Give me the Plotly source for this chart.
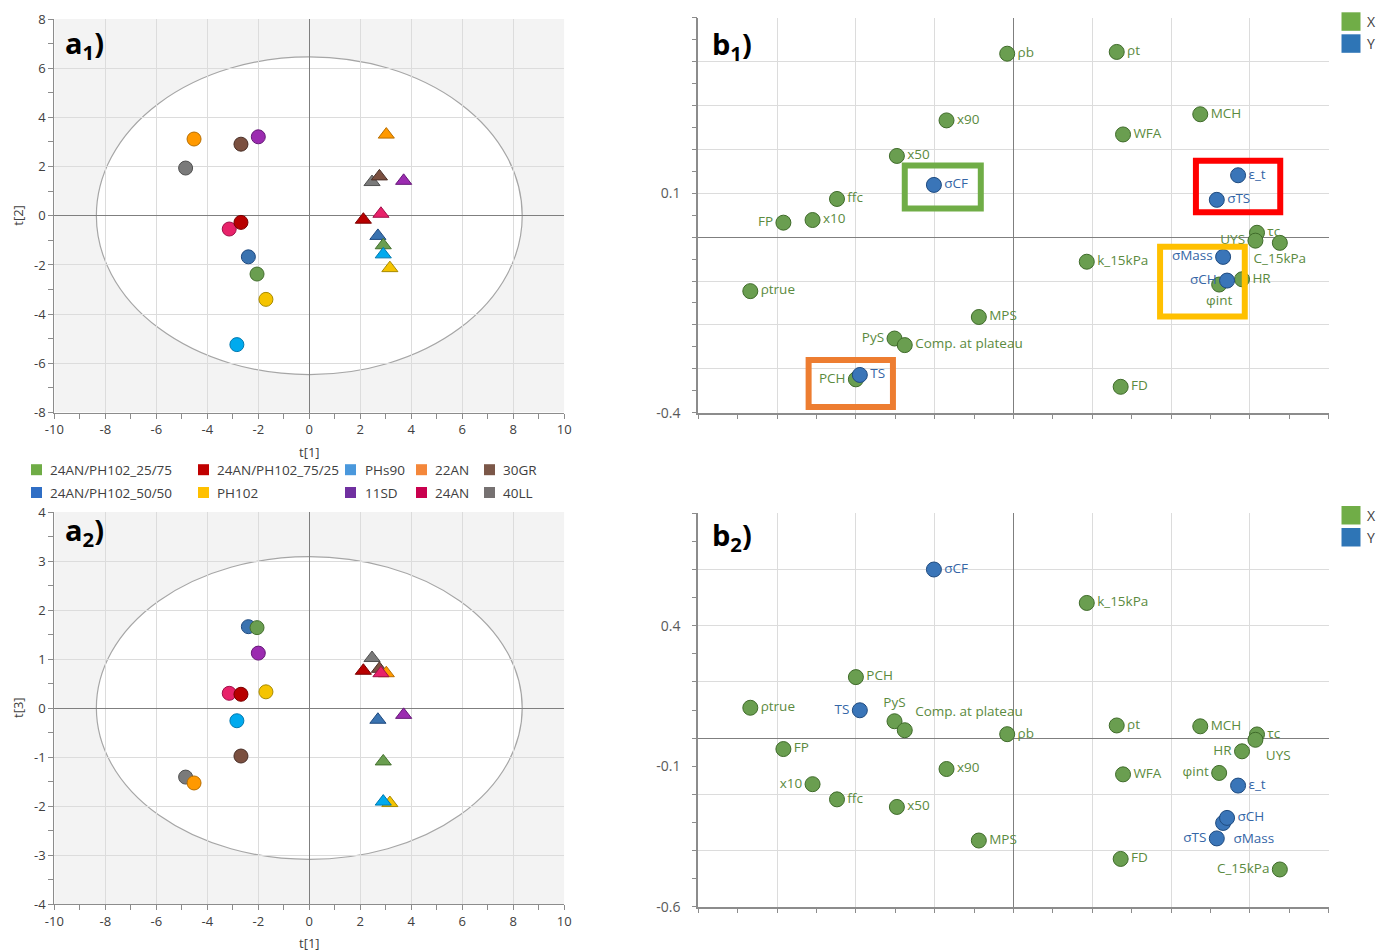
import plotly.graph_objects as go

W, H = 1376, 951

# ---------------- DATA: score plots (a1, a2) ----------------
groups = ["24AN/PH102_25/75", "24AN/PH102_50/50", "24AN/PH102_75/25", "PH102",
          "PHs90", "11SD", "22AN", "24AN", "30GR", "40LL"]
circle_t1 = [-2.05, -2.39, -2.68, -1.70, -2.84, -2.00, -4.52, -3.14, -2.68, -4.85]
circle_t2 = [-2.37, -1.67, -0.27, -3.40, -5.24, 3.21, 3.12, -0.54, 2.91, 1.94]
circle_t3 = [1.64, 1.66, 0.28, 0.33, -0.26, 1.12, -1.53, 0.30, -0.98, -1.41]
triangle_t1 = [2.90, 2.69, 2.12, 3.16, 2.90, 3.70, 3.02, 2.81, 2.75, 2.46]
triangle_t2 = [-1.20, -0.82, -0.16, -2.13, -1.57, 1.42, 3.30, 0.08, 1.60, 1.37]
triangle_t3 = [-1.09, -0.24, 0.76, -1.94, -1.91, -0.14, 0.71, 0.71, 0.80, 1.02]
ellipse_a1 = [8.35, 6.46]
ellipse_a2 = [8.35, 3.09]
t1_ticks = [-10, -8, -6, -4, -2, 0, 2, 4, 6, 8, 10]
t2_ticks = [-8, -6, -4, -2, 0, 2, 4, 6, 8]
t3_ticks = [-4, -3, -2, -1, 0, 1, 2, 3, 4]

# ---------------- DATA: loading plots (b1, b2) ----------------
x_names = ["ρb", "ρt", "x90", "MCH", "WFA", "x50", "ffc", "x10", "FP", "τc", "UYS",
           "C_15kPa", "k_15kPa", "φint", "HR", "FD", "ρtrue", "MPS", "PyS",
           "Comp. at plateau", "PCH"]
x_wc1 = [-0.008, 0.131, -0.085, 0.237, 0.139, -0.148, -0.224, -0.255, -0.292, 0.309, 0.307,
         0.338, 0.093, 0.261, 0.290, 0.136, -0.334, -0.044, -0.151, -0.138, -0.200]
x_wc2 = [0.418, 0.422, 0.266, 0.280, 0.234, 0.185, 0.087, 0.039, 0.033, 0.010, -0.008,
         -0.013, -0.056, -0.108, -0.096, -0.341, -0.123, -0.182, -0.231, -0.246, -0.324]
x_wc3 = [0.014, 0.045, -0.110, 0.042, -0.129, -0.245, -0.218, -0.164, -0.039, 0.013, -0.006,
         -0.4675, 0.481, -0.124, -0.047, -0.430, 0.108, -0.3645, 0.060, 0.028, 0.217]

y_names = ["σCF", "ε_t", "σTS", "σMass", "σCH", "TS"]
y_wc1 = [-0.101, 0.285, 0.258, 0.266, 0.271, -0.195]
y_wc2 = [0.119, 0.141, 0.085, -0.045, -0.099, -0.314]
y_wc3 = [0.600, -0.169, -0.357, -0.302, -0.284, 0.099]

b_x_grid = [-0.4, -0.3, -0.2, -0.1, 0.0, 0.1, 0.2, 0.3, 0.4]
b1_y_grid = [-0.4, -0.3, -0.2, -0.1, 0.0, 0.1, 0.2, 0.3, 0.4, 0.5]
b1_y_labels = [-0.4, 0.1]
b2_y_grid = [-0.6, -0.4, -0.2, 0.0, 0.2, 0.4, 0.6, 0.8]
b2_y_labels = [-0.6, -0.1, 0.4]

# ---------------- STYLE ----------------
fill = ["#6a9e50", "#3a73b0", "#b80000", "#f5c400", "#00aaee",
        "#9b2bb0", "#ff9900", "#e8226a", "#7b5040", "#7a7a7a"]
edge = ["#44702e", "#1f4a80", "#7a0000", "#a88a00", "#0079b0",
        "#661a78", "#b86e00", "#a0104a", "#4a3028", "#505050"]
swatch = ["#6fac46", "#2f6ec5", "#c00000", "#ffc000", "#4a98dc",
          "#7030a0", "#f4873a", "#c9004e", "#7b5748", "#767171"]
draw_order = [3, 1, 0, 4, 9, 8, 6, 5, 7, 2]
legend_cells = [(0, 0, 0), (2, 1, 0), (4, 2, 0), (6, 3, 0), (8, 4, 0),
                (1, 0, 1), (3, 1, 1), (5, 2, 1), (7, 3, 1), (9, 4, 1)]
leg_sw_x = [36.5, 203.5, 350.5, 421.5, 489.5]
leg_tx_x = [48.0, 215.0, 362.5, 433.5, 501.0]
leg_row_y = [469.7, 492.5]

x_pos_b1 = ["middle right"] * 8 + ["middle left", "middle right", "middle left",
            "bottom center", "middle right", "bottom center", "middle right", "middle right",
            "middle right", "middle right", "middle left", "middle right", "middle left"]
x_pos_b2 = ["middle right"] * 7 + ["middle left", "middle right", "middle right", "bottom right",
            "middle left", "middle right", "middle left", "middle left", "middle right",
            "middle right", "middle right", "top center", "top right", "middle right"]
y_pos_b1 = ["middle right", "middle right", "middle right", "middle left", "middle left", "middle right"]
y_pos_b2 = ["middle right", "middle right", "middle left", "bottom right", "middle right", "middle left"]

GREEN, GREEN_EDGE, GREEN_TXT = "#6a9e50", "#3f6b2a", "#5b8a40"
BLUE, BLUE_EDGE, BLUE_TXT = "#3a75b8", "#1f4b80", "#3566a6"
FONT = "Open Sans, Noto Sans, sans-serif"
AXC = "#8c8c8c"
GRID = "#dcdcdc"
ZERO = "#7f7f7f"


def px(x):
    return x / W


def py(y):
    return 1 - y / H


def fmt(v):
    return "%g" % v


fig = go.Figure()

# score plots
for ax_x, ax_y, tri_y, cir_y in [("x", "y", triangle_t2, circle_t2), ("x2", "y2", triangle_t3, circle_t3)]:
    for i in draw_order:
        fig.add_trace(go.Scatter(
            x=[circle_t1[i], triangle_t1[i]], y=[cir_y[i], tri_y[i]],
            mode="markers", name=groups[i], showlegend=False,
            marker=dict(symbol=["circle", "triangle-up"], size=14, opacity=1,
                        color=fill[i], line=dict(color=edge[i], width=1)),
            xaxis=ax_x, yaxis=ax_y, cliponaxis=False))

# loading plots
for ax_x, ax_y, xv, yv, xp, yp in [("x3", "y3", x_wc2, y_wc2, x_pos_b1, y_pos_b1),
                                     ("x4", "y4", x_wc3, y_wc3, x_pos_b2, y_pos_b2)]:
    fig.add_trace(go.Scatter(
        x=x_wc1, y=xv, text=x_names, mode="markers+text", textposition=xp, name="X",
        showlegend=False, marker=dict(size=15, opacity=1, color=GREEN, line=dict(color=GREEN_EDGE, width=1)),
        textfont=dict(family=FONT, size=13.5, color=GREEN_TXT), xaxis=ax_x, yaxis=ax_y, cliponaxis=False))
    fig.add_trace(go.Scatter(
        x=y_wc1, y=yv, text=y_names, mode="markers+text", textposition=yp, name="Y",
        showlegend=False, marker=dict(size=15, opacity=1, color=BLUE, line=dict(color=BLUE_EDGE, width=1)),
        textfont=dict(family=FONT, size=13.5, color=BLUE_TXT), xaxis=ax_x, yaxis=ax_y, cliponaxis=False))

# empty traces that carry the tick-label overlay axes of b1 / b2
fig.add_trace(go.Scatter(x=[], y=[], xaxis="x3", yaxis="y6", showlegend=False))
fig.add_trace(go.Scatter(x=[], y=[], xaxis="x4", yaxis="y5", showlegend=False))

tickfont_a = dict(family=FONT, size=13, color="#404040")
tickfont_b = dict(family=FONT, size=14, color="#595959")


def base_axis(**kw):
    d = dict(showgrid=True, gridcolor=GRID, gridwidth=1, zeroline=True, zerolinecolor=ZERO,
             zerolinewidth=1.4, showline=True, linecolor=AXC, linewidth=1.2, ticks="outside",
             ticklen=5, tickcolor=AXC, tickwidth=1, mirror=False, fixedrange=True, automargin=False)
    d.update(kw)
    return d


def minor(step):
    return dict(dtick=step, tick0=0, ticks="outside", ticklen=5, tickcolor=AXC, showgrid=False)


def label_axis(over, anchor, rng, vals):
    return dict(overlaying=over, anchor=anchor, side="left", range=rng, tickmode="array",
                tickvals=vals, ticktext=[fmt(v) for v in vals], tickfont=tickfont_b,
                showgrid=False, zeroline=False, showline=False, ticks="outside", ticklen=14,
                tickcolor="rgba(0,0,0,0)", fixedrange=True, automargin=False)


a_xdom = [px(54.3), px(564.3)]
b_xdom = [px(698.3), px(1328.7)]

fig.update_layout(
    width=W, height=H, margin=dict(l=0, r=0, t=0, b=0, pad=0), autosize=False,
    paper_bgcolor="white", plot_bgcolor="white", showlegend=False,
    font=dict(family=FONT, color="#404040"),
    xaxis=base_axis(domain=a_xdom, anchor="y", range=[-10, 10], tickmode="array",
                    tickvals=t1_ticks, ticktext=[fmt(v) for v in t1_ticks],
                    tickfont=tickfont_a, minor=minor(1)),
    yaxis=base_axis(domain=[py(412.5), py(19)], anchor="x", range=[-8, 8], tickmode="array",
                    tickvals=t2_ticks, ticktext=[fmt(v) for v in t2_ticks],
                    tickfont=tickfont_a, minor=minor(1)),
    xaxis2=base_axis(domain=a_xdom, anchor="y2", range=[-10, 10], tickmode="array",
                     tickvals=t1_ticks, ticktext=[fmt(v) for v in t1_ticks],
                     tickfont=tickfont_a, minor=minor(1)),
    yaxis2=base_axis(domain=[py(904), py(512)], anchor="x2", range=[-4, 4], tickmode="array",
                     tickvals=t3_ticks, ticktext=[fmt(v) for v in t3_ticks],
                     tickfont=tickfont_a, minor=minor(0.5)),
    xaxis3=base_axis(domain=b_xdom, anchor="y3", range=[-0.4, 0.4], tickmode="array",
                     tickvals=b_x_grid, showticklabels=False, linewidth=1.5, minor=minor(0.05)),
    yaxis3=base_axis(domain=[py(412.7), py(17.7)], anchor="x3", range=[-0.4, 0.5], tickmode="array",
                     tickvals=b1_y_grid, showticklabels=False, linewidth=1.5, minor=minor(0.05)),
    xaxis4=base_axis(domain=b_xdom, anchor="y4", range=[-0.4, 0.4], tickmode="array",
                     tickvals=b_x_grid, showticklabels=False, linewidth=1.5, minor=minor(0.05)),
    yaxis4=base_axis(domain=[py(906.7), py(513.3)], anchor="x4", range=[-0.6, 0.8], tickmode="array",
                     tickvals=b2_y_grid, showticklabels=False, linewidth=1.5, minor=minor(0.1)),
    yaxis5=label_axis("y4", "x4", [-0.6, 0.8], b2_y_labels),
    yaxis6=label_axis("y3", "x3", [-0.4, 0.5], b1_y_labels),
)

shapes = []
# score plot backgrounds and Hotelling ellipses
for xr, yr, (ex, ey), yrange in [("x", "y", ellipse_a1, 8), ("x2", "y2", ellipse_a2, 4)]:
    shapes.append(dict(type="rect", xref=xr, yref=yr, x0=-10, x1=10, y0=-yrange, y1=yrange,
                       fillcolor="#f3f3f3", line=dict(width=0), layer="below"))
    shapes.append(dict(type="circle", xref=xr, yref=yr, x0=-ex, x1=ex, y0=-ey, y1=ey,
                       fillcolor="white", line=dict(color="#a6a6a6", width=1.2), layer="below"))

# highlight boxes in b1
boxes = [(-0.138, -0.0415, 0.065, 0.163, "#70ad47"),
         (0.2315, 0.3385, 0.057, 0.174, "#ff0000"),
         (0.186, 0.2935, -0.181, -0.022, "#ffc000"),
         (-0.260, -0.153, -0.387, -0.280, "#ed7d31")]
for x0, x1, y0, y1, c in boxes:
    shapes.append(dict(type="rect", xref="x3", yref="y3", x0=x0, x1=x1, y0=y0, y1=y1,
                       line=dict(color=c, width=6), fillcolor="rgba(0,0,0,0)", layer="above"))

annotations = []
# legend of score plots
for gi, col, row in legend_cells:
    cx, cy = leg_sw_x[col], leg_row_y[row]
    shapes.append(dict(type="rect", xref="paper", yref="paper", x0=px(cx - 5.5), x1=px(cx + 5.5),
                       y0=py(cy + 5.5), y1=py(cy - 5.5), fillcolor=swatch[gi], line=dict(width=0)))
    annotations.append(dict(xref="paper", yref="paper", x=px(leg_tx_x[col]), y=py(cy), text=groups[gi],
                            showarrow=False, xanchor="left", yanchor="middle",
                            font=dict(family=FONT, size=13.5, color="#404040")))

# X / Y legends of loading plots
for top in (12.3, 506.0):
    for k, (nm, c) in enumerate([("X", "#70ad47"), ("Y", "#2e75b6")]):
        y0 = top + k * 22
        shapes.append(dict(type="rect", xref="paper", yref="paper", x0=px(1341.5), x1=px(1360.5),
                           y0=py(y0 + 18.5), y1=py(y0), fillcolor=c, line=dict(width=0)))
        annotations.append(dict(xref="paper", yref="paper", x=px(1364.5), y=py(y0 + 9), text=nm,
                                showarrow=False, xanchor="left", yanchor="middle",
                                font=dict(family=FONT, size=14, color="#404040")))

# panel labels
for txt, sub, x, y in [("a", "1", 63, 44), ("a", "2", 63, 531), ("b", "1", 710, 45), ("b", "2", 710, 536)]:
    annotations.append(dict(xref="paper", yref="paper", x=px(x), y=py(y),
                            text="<b>%s<sub>%s</sub>)</b>" % (txt, sub), showarrow=False,
                            xanchor="left", yanchor="middle",
                            font=dict(family=FONT, size=29, color="black")))

# axis titles
for txt, x, y, ang in [("t[2]", 18, 215.7, -90), ("t[3]", 18, 708, -90),
                       ("t[1]", 309.3, 452, 0), ("t[1]", 309.3, 943, 0)]:
    annotations.append(dict(xref="paper", yref="paper", x=px(x), y=py(y), text=txt, textangle=ang,
                            showarrow=False, xanchor="center", yanchor="middle",
                            font=dict(family=FONT, size=13, color="#404040")))

fig.update_layout(shapes=shapes, annotations=annotations)
fig.write_html("out.html",
               post_script="document.body.style.margin='0px';document.body.style.overflow='hidden';")
